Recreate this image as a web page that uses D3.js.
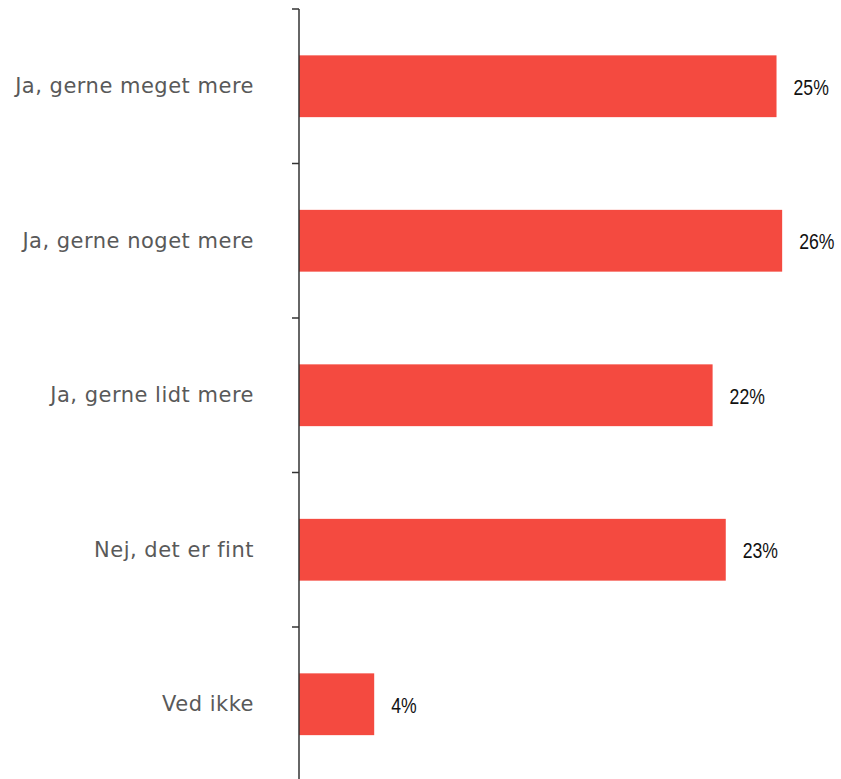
<!DOCTYPE html>
<html><head><meta charset="utf-8">
<script src="https://cdn.jsdelivr.net/npm/d3@7"></script>
<style>body{margin:0;background:#fff}</style>
</head><body>
<script>
const categories = ["Ja, gerne meget mere","Ja, gerne noget mere","Ja, gerne lidt mere","Nej, det er fint","Ved ikke"];
const values = [25.4, 25.7, 22.0, 22.7, 4.0];
const valueLabels = ["25%","26%","22%","23%","4%"];

const W = 841, H = 779;
const svg = d3.select("body").append("svg").attr("width", W).attr("height", H);
const x0 = 299;
const x = d3.scaleLinear().domain([0, 28]).range([x0, x0 + 28 * 18.8]);
const y = d3.scaleBand().domain(categories).range([9, 9 + 5 * 154.5]).paddingInner(0.6).paddingOuter(0.3);

svg.selectAll("rect.bar").data(categories).enter().append("rect")
  .attr("x", x(0)).attr("y", d => y(d))
  .attr("width", (d, i) => x(values[i]) - x(0))
  .attr("height", y.bandwidth())
  .attr("fill", "#F44A40");

const g = svg.append("g").attr("transform", `translate(${x0},0)`);
g.append("line").attr("x1", 0).attr("x2", 0).attr("y1", 9).attr("y2", H + 5).attr("stroke", "#333").attr("stroke-width", 1.5);
const bounds = d3.range(5).map(i => 9 + i * 154.5);
g.selectAll("line.tick").data(bounds).enter().append("line")
  .attr("x1", -7).attr("x2", 0).attr("y1", d => d).attr("y2", d => d)
  .attr("stroke", "#333").attr("stroke-width", 1.5);

svg.selectAll("text.cat").data(categories).enter().append("text")
  .attr("x", 254).attr("y", d => y(d) + y.bandwidth() / 2)
  .attr("text-anchor", "end").attr("dominant-baseline", "central")
  .attr("font-family", "DejaVu Sans").attr("font-size", 21).attr("letter-spacing", 0.5).attr("fill", "#595959")
  .text(d => d);

svg.selectAll("text.val").data(categories).enter().append("text")
  .attr("transform", (d, i) => `translate(${x(values[i]) + 17},${y(d) + y.bandwidth() / 2 + 1}) scale(0.82,1)`)
  .attr("dominant-baseline", "central")
  .attr("font-family", "Liberation Sans").attr("font-size", 21.5).attr("fill", "#111")
  .text((d, i) => valueLabels[i]);
</script>
</body></html>
